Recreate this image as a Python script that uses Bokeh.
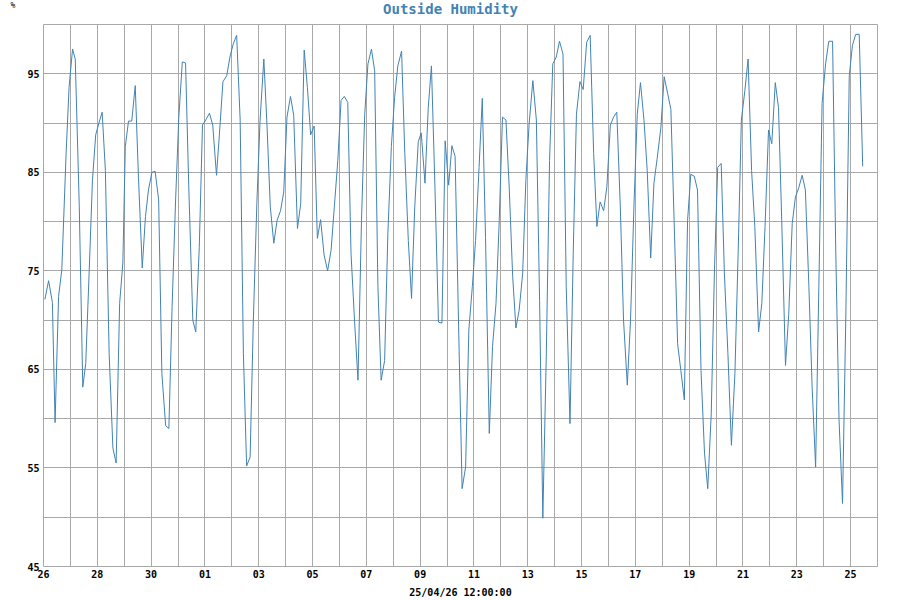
from bokeh.plotting import figure
from bokeh.layouts import column
from bokeh.models import Range1d, FixedTicker, Label
from bokeh.embed import file_html
from bokeh.resources import INLINE

# days since 26 March 00:00
days = [0.05, 0.19, 0.33, 0.43, 0.56, 0.68, 0.84, 0.95, 1.08, 1.18, 1.33, 1.46, 1.57, 1.70, 1.82, 1.94, 2.06, 2.18,
        2.30, 2.44, 2.58, 2.70, 2.83, 2.95, 3.04, 3.16, 3.28, 3.41, 3.53, 3.67, 3.79, 3.90, 4.03, 4.15, 4.28, 4.40,
        4.54, 4.66, 4.78, 4.91, 5.03, 5.16, 5.28, 5.40, 5.55, 5.66, 5.79, 5.91, 6.03, 6.17,
        6.29, 6.43, 6.55, 6.67, 6.81, 6.93, 7.06, 7.18, 7.31, 7.43, 7.55, 7.68, 7.80, 7.93, 8.05, 8.19, 8.31, 8.43,
        8.56, 8.68, 8.81, 8.93, 9.05, 9.18, 9.30, 9.44, 9.56, 9.69, 9.81, 9.93, 10.06, 10.18, 10.30, 10.43, 10.56,
        10.69, 10.81, 10.94, 11.06, 11.18, 11.31, 11.43, 11.56, 11.69, 11.82, 11.94, 12.06, 12.19,
        12.31, 12.43, 12.55, 12.68, 12.80, 12.93, 13.05, 13.17, 13.31, 13.43, 13.56, 13.68, 13.80, 13.93, 14.04,
        14.18, 14.30, 14.42, 14.55, 14.68, 14.81, 14.93, 15.06, 15.18, 15.30, 15.43, 15.56, 15.69, 15.81, 15.94,
        16.06, 16.19, 16.31, 16.43, 16.57, 16.69, 16.82, 16.94, 17.06, 17.19, 17.31, 17.44, 17.56, 17.68, 17.81,
        17.93, 18.05, 18.19, 18.32, 18.44,
        18.56, 18.69, 18.81, 18.93, 19.06, 19.18, 19.31, 19.43, 19.57, 19.69, 19.81, 19.94, 20.06, 20.19, 20.32,
        20.45, 20.57, 20.69, 20.82, 20.94, 21.07, 21.19, 21.31, 21.44, 21.56, 21.70, 21.82, 21.95, 22.07, 22.19,
        22.32, 22.44, 22.57, 22.69, 22.81, 22.95, 23.07, 23.20, 23.32, 23.44, 23.57, 23.69, 23.82, 23.94, 24.06,
        24.19, 24.31, 24.44, 24.57,
        24.69, 24.82, 24.94, 25.06, 25.19, 25.31, 25.44, 25.57, 25.70, 25.82, 25.94, 26.07, 26.19, 26.32, 26.44,
        26.58, 26.70, 26.82, 26.95, 27.07, 27.20, 27.32, 27.44, 27.58, 27.70, 27.83, 27.95, 28.08, 28.20, 28.32,
        28.45, 28.57, 28.70, 28.82, 28.94, 29.07, 29.19, 29.33, 29.45, 29.57, 29.70, 29.82, 29.95, 30.07, 30.19,
        30.32, 30.45]

humidity = [72.1, 74.0, 71.8, 59.6, 72.4, 75.1, 86.9, 93.6, 97.5, 96.5, 81.5, 63.2, 65.6, 75.1, 84.2, 88.8, 90.0, 91.1,
            85.2, 66.6, 57.0, 55.5, 71.7, 75.8, 87.6, 90.2, 90.2, 93.8, 84.5, 75.3, 80.5, 83.2, 85.0, 85.1, 82.2, 64.6,
            59.3, 59.0, 71.4, 82.2, 90.6, 96.2, 96.1, 83.5, 70.0, 68.8, 77.4, 89.8, 90.3, 91.0,
            89.8, 84.7, 89.3, 94.2, 94.8, 96.7, 98.1, 98.9, 90.3, 66.6, 55.2, 56.1, 70.0, 81.8, 90.3, 96.5, 89.6, 81.5,
            77.8, 80.1, 81.1, 83.0, 90.6, 92.7, 90.8, 79.3, 81.8, 97.4, 93.6, 88.8, 89.7, 78.3, 80.2, 76.6, 75.0,
            77.1, 81.5, 86.2, 92.3, 92.7, 92.1, 76.8, 70.0, 63.9, 80.1, 90.9, 96.0, 97.5,
            95.3, 73.4, 63.9, 65.9, 78.8, 87.6, 92.6, 95.8, 97.3, 86.9, 78.1, 72.2, 81.5, 88.1, 89.0,
            83.9, 91.5, 95.8, 83.5, 69.8, 69.7, 88.2, 83.7, 87.7, 86.6, 69.3, 52.9, 55.1, 69.0, 73.4,
            78.1, 85.5, 92.5, 78.4, 58.5, 67.3, 71.7, 80.1, 90.6, 90.3, 83.5, 74.4, 69.2, 71.0, 74.7,
            84.2, 89.9, 94.3, 90.3, 72.0,
            49.9, 66.6, 86.2, 96.0, 96.7, 98.3, 97.0, 73.4, 59.5, 76.8, 90.9, 94.2, 93.4, 98.2, 98.9,
            86.9, 79.5, 82.0, 81.1, 83.5, 89.8, 90.6, 91.1, 81.5, 70.0, 63.4, 70.0, 81.8, 90.9, 94.1,
            90.3, 85.2, 76.3, 83.9, 86.4, 89.6, 94.7, 93.0, 91.4, 80.1, 67.6, 64.9, 61.9, 80.1, 84.8,
            84.6, 83.2, 64.9, 56.5,
            52.9, 60.5, 75.1, 85.5, 85.9, 74.7, 66.6, 57.3, 64.6, 76.8, 90.3, 93.3, 96.5, 85.2, 79.5,
            68.8, 71.7, 79.5, 89.3, 87.9, 94.1, 91.6, 80.1, 65.4, 70.6, 79.8, 82.5, 83.5, 84.7, 83.2,
            73.4, 63.2, 55.1, 73.4, 92.0, 96.0, 98.3, 98.3, 76.8, 59.9, 51.4, 70.0, 94.8, 97.9, 99.0,
            99.0, 85.6]

x_tick_pos = list(range(0, 31, 2))
x_tick_labels = ["26", "28", "30", "01", "03", "05", "07", "09", "11", "13", "15", "17", "19", "21", "23", "25"]
x_minor = list(range(0, 32))
y_ticks = [45, 55, 65, 75, 85, 95]
y_minor = [50, 60, 70, 80, 90, 100]

title_text = "Outside Humidity"
unit_text = "%"
date_text = "25/04/26 12:00:00"

GRID = "#a8a8a8"
LINE = "#4282b4"
MONO = "DejaVu Sans Mono"

# header strip holding the title and unit
head = figure(width=900, height=24, output_backend="svg", toolbar_location=None,
              x_range=Range1d(0, 900), y_range=Range1d(0, 24),
              x_axis_type=None, y_axis_type=None,
              min_border_left=0, min_border_right=0, min_border_top=0, min_border_bottom=0)
try:
    head.frame_align = False
except Exception:
    pass
head.outline_line_color = None
head.background_fill_color = "white"
head.border_fill_color = "white"
head.add_layout(Label(x=450, y=16, text=title_text, text_align="center", text_baseline="middle",
                      text_font=MONO, text_font_style="bold", text_font_size="14px", text_color=LINE))
head.add_layout(Label(x=10, y=19, text=unit_text, text_align="left", text_baseline="middle",
                      text_font=MONO, text_font_size="8px", text_color="black"))

p = figure(width=900, height=576, output_backend="svg", toolbar_location=None,
           x_range=Range1d(0, 31), y_range=Range1d(45, 100),
           min_border_left=43, min_border_right=23, min_border_top=0, min_border_bottom=33)
try:
    p.frame_align = False
except Exception:
    pass

p.line(days, humidity, line_color=LINE, line_width=1)

p.xaxis.ticker = FixedTicker(ticks=x_tick_pos, minor_ticks=x_minor)
p.xaxis.major_label_overrides = {k: v for k, v in zip(x_tick_pos, x_tick_labels)}
p.yaxis.ticker = FixedTicker(ticks=y_ticks, minor_ticks=y_minor)

for ax in (p.xaxis[0], p.yaxis[0]):
    ax.axis_line_color = None
    ax.major_tick_line_color = None
    ax.minor_tick_line_color = None
    ax.major_tick_out = 0
    ax.minor_tick_out = 0
    ax.major_label_text_font = MONO
    ax.major_label_text_font_style = "bold"
    ax.major_label_text_font_size = "10px"
    ax.major_label_text_color = "black"
    ax.major_label_standoff = 4

p.xaxis.major_label_standoff = 3
p.xaxis.axis_label = date_text
p.xaxis.axis_label_text_font = MONO
p.xaxis.axis_label_text_font_style = "bold"
p.xaxis.axis_label_text_font_size = "10px"
p.xaxis.axis_label_text_color = "black"
p.xaxis.axis_label_standoff = 6

for g in (p.xgrid[0], p.ygrid[0]):
    g.grid_line_color = GRID
    g.grid_line_width = 1
    g.minor_grid_line_color = GRID
    g.minor_grid_line_width = 1

p.outline_line_color = GRID
p.outline_line_width = 1
p.background_fill_color = "white"
p.border_fill_color = "white"

layout = column(head, p, spacing=0)

open("out.html", "w").write(file_html(layout, INLINE))
